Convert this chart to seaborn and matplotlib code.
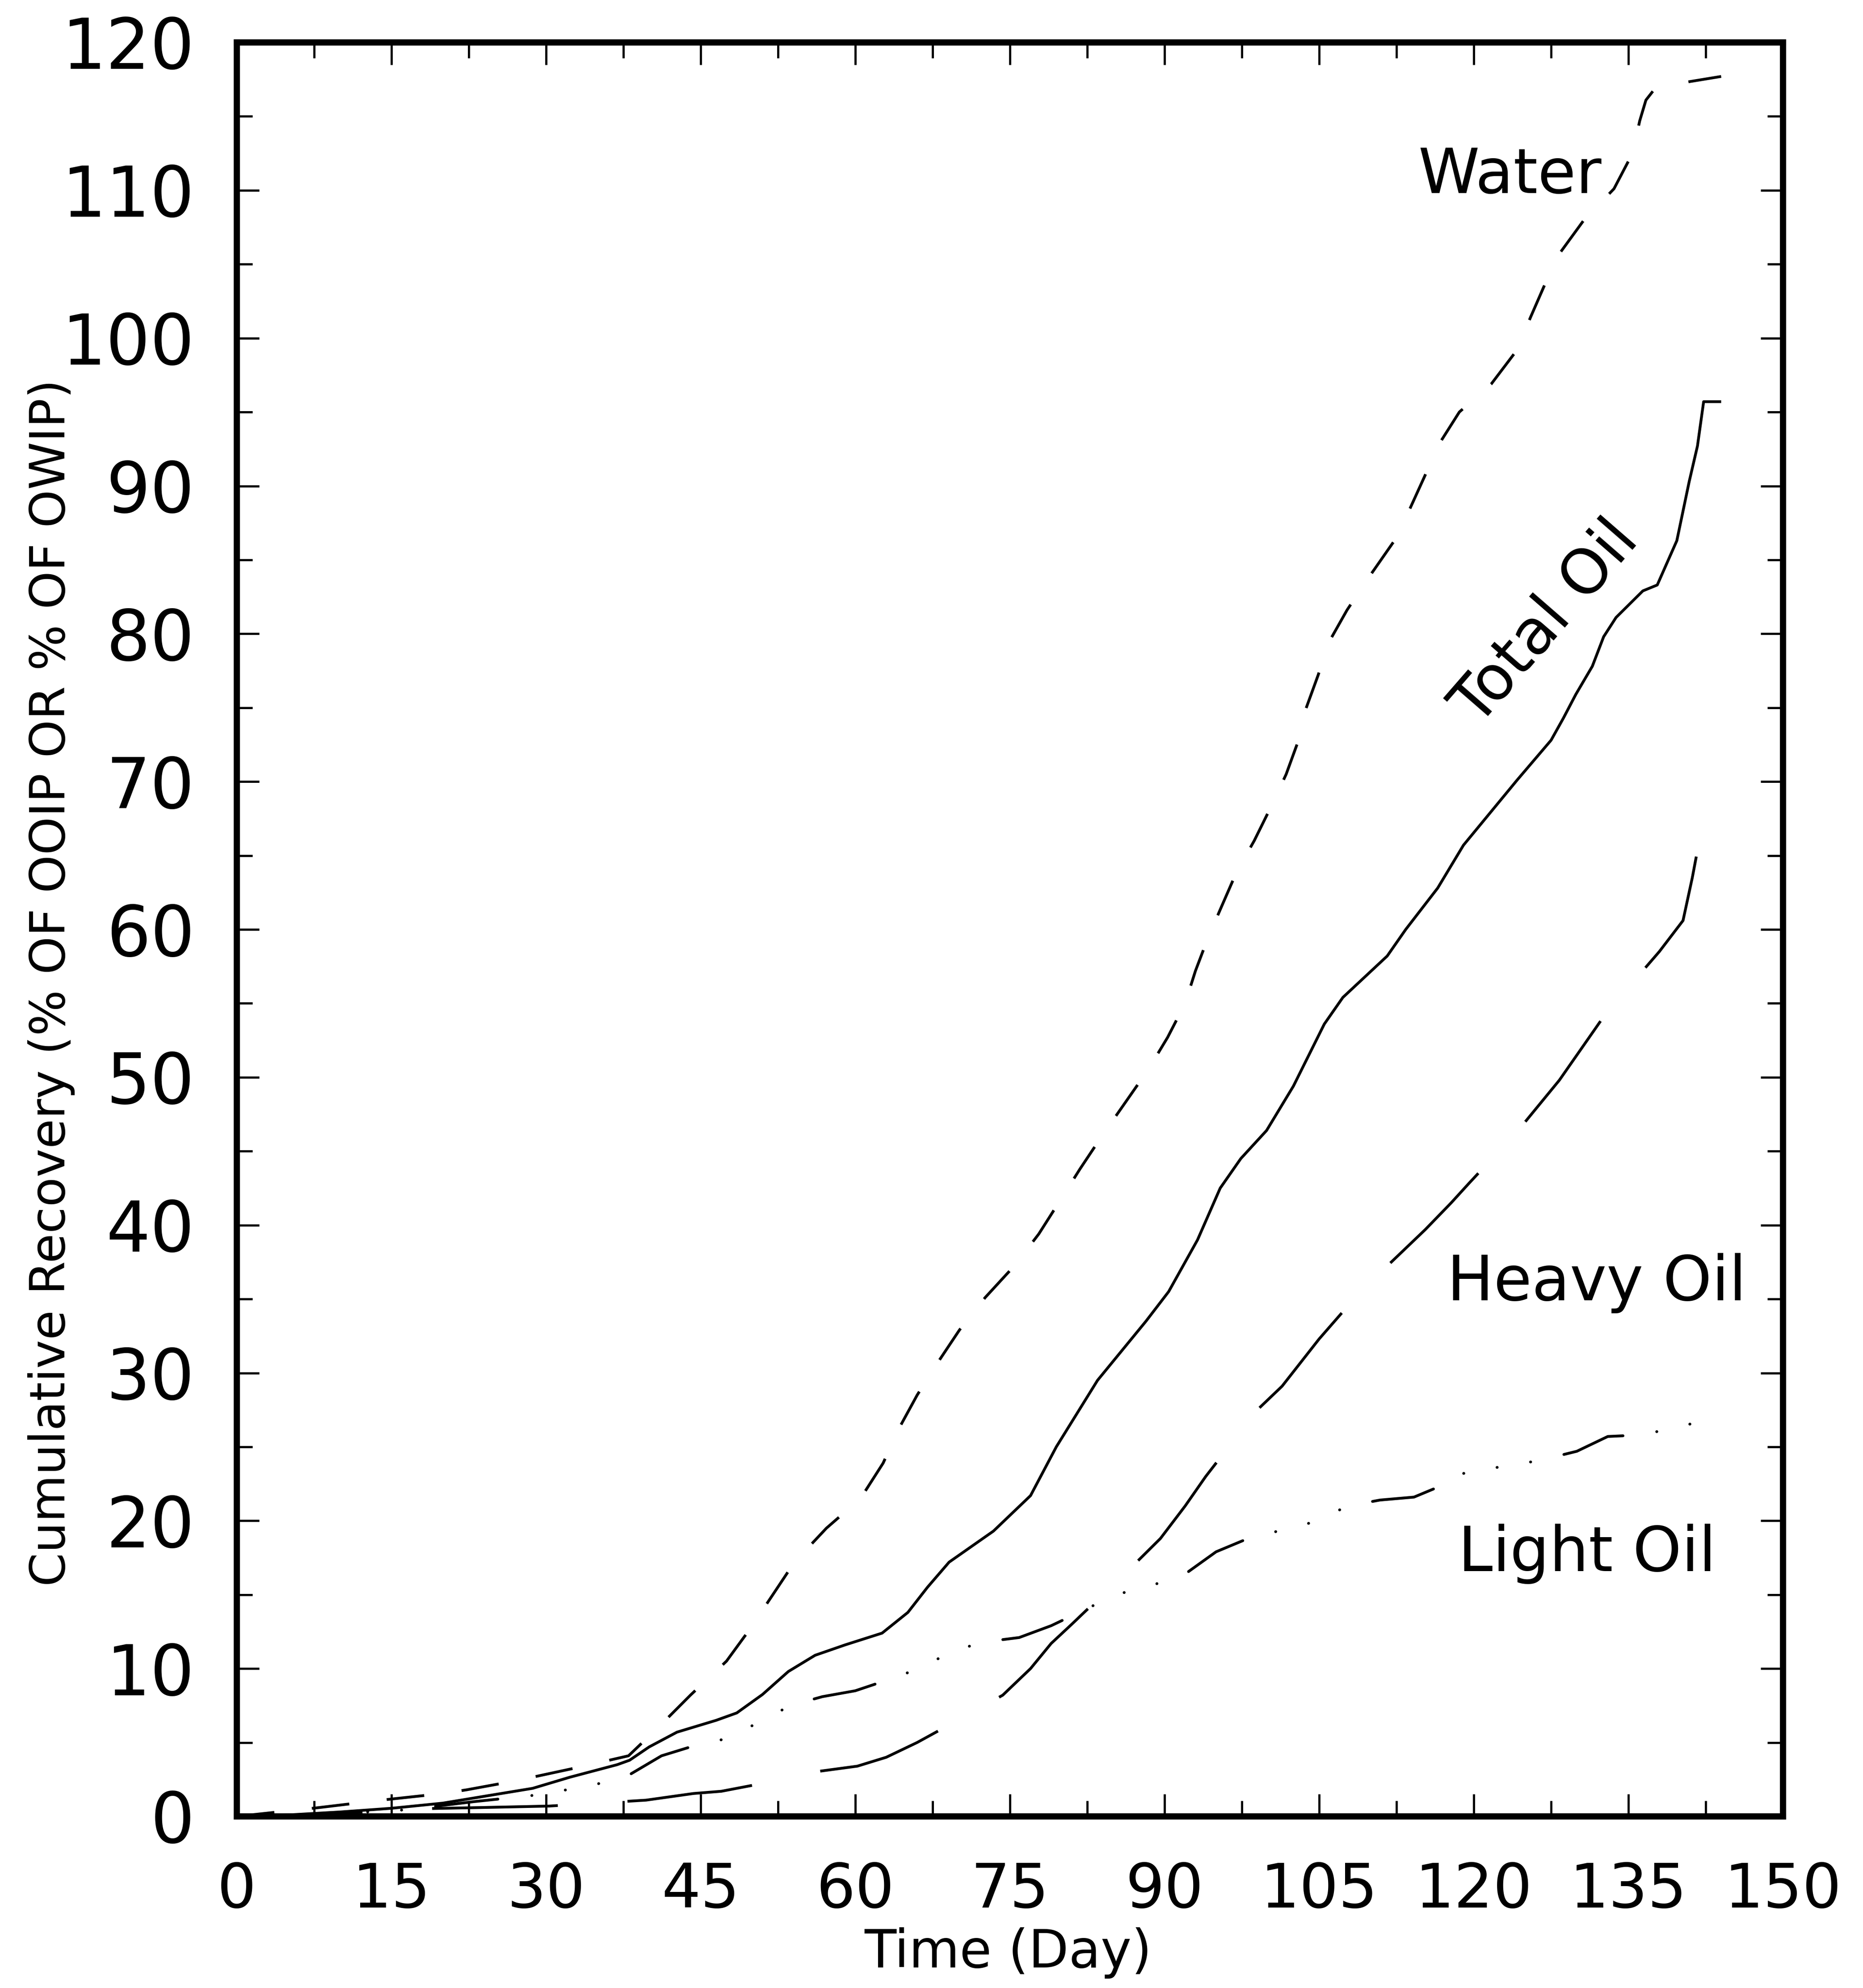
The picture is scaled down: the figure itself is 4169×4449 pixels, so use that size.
import matplotlib
matplotlib.use("Agg")
import matplotlib.pyplot as plt
import numpy as np
import pandas as pd
import seaborn as sns
from matplotlib.ticker import MultipleLocator

# ---------------- data ----------------
water_day = [0, 4, 8, 14, 20, 22.3, 27, 33, 38, 41, 44, 47.5, 49.7, 52, 54.1, 57.2,
             60.5, 62.7, 64.2, 66, 67.9, 70.1, 72.6, 75.5, 77.8, 79.9, 81.8, 83.9,
             86.2, 88.4, 90.3, 92, 93, 94.2, 95.5, 97, 98.7, 100.4, 101.8, 103, 103.7,
             104.9, 106, 107.7, 109.9, 112.2, 113.7, 115.2, 116.6, 118.6, 121.7,
             124.2, 125.5, 127, 128.4, 130.7, 133.6, 135.4, 136.1, 136.7, 137.6,
             140.5, 144]
water_val = [0, 0.3, 0.6, 1.1, 1.55, 1.8, 2.4, 3.3, 4.1, 6.1, 8.2, 10.5, 12.6, 15.0,
             17.2, 19.5, 21.5, 23.9, 26.2, 28.5, 30.6, 32.9, 35.1, 37.3, 39.4, 41.7,
             43.8, 46.0, 48.3, 50.5, 52.7, 55.0, 57.2, 59.4, 61.5, 63.9, 66.0, 68.4,
             70.5, 72.8, 74.9, 77.2, 79.5, 81.6, 83.9, 86.2, 88.3, 90.6, 92.8, 95.0,
             96.9, 99.2, 101.4, 103.8, 105.8, 108.0, 110.1, 112.5, 114.7, 116.1,
             116.9, 117.3, 117.7]

total_day = [0, 5, 10, 15, 20, 22.6, 28.7, 32.3, 36.9, 38.1, 40, 42.7, 46.5, 48.5, 51,
             53.5, 56.1, 59, 62.6, 65.1, 67, 69.1, 73.4, 77, 79.5, 83.5, 88.2, 90.4,
             93.2, 95.4, 97.4, 99.9, 102.5, 105.5, 107.3, 111.6, 113.4, 116.5, 119,
             122.9, 124.2, 127.5, 128.7, 129.9, 131.5, 132.6, 133.8, 136.4, 137.8,
             139.7, 140.9, 141.7, 142.3, 144]
total_val = [0, 0.1, 0.3, 0.55, 0.9, 1.2, 1.9, 2.65, 3.5, 3.8, 4.7, 5.7, 6.5, 7.0, 8.25,
             9.8, 10.9, 11.6, 12.4, 13.8, 15.5, 17.2, 19.3, 21.7, 25.0, 29.5, 33.5,
             35.5, 39.0, 42.5, 44.5, 46.4, 49.4, 53.6, 55.4, 58.2, 60.0, 62.8, 65.7,
             69.0, 70.1, 72.8, 74.3, 75.9, 77.8, 79.8, 81.1, 82.9, 83.3, 86.3, 90.3,
             92.7, 95.7, 95.7]

heavy_day = [0, 10, 16.5, 23.7, 30.3, 35, 39.7, 44.3, 47, 50, 53.8, 57, 60.2, 63, 66,
             69.4, 72, 74.3, 77, 79, 81, 83.1, 85.2, 87, 89.6, 92, 94, 97, 99, 101.4,
             105, 109, 112, 115.3, 117.8, 119.5, 124.3, 128.3, 131, 133, 135.4, 138,
             140.3, 141.2, 142.2]
heavy_val = [0, 0.2, 0.5, 0.6, 0.7, 0.9, 1.1, 1.55, 1.7, 2.1, 2.8, 3.1, 3.4, 4.0, 5.0,
             6.3, 7.3, 8.2, 10.0, 11.7, 13.0, 14.4, 15.6, 17.0, 18.8, 21.0, 23.0, 25.7,
             27.5, 29.1, 32.3, 35.5, 37.5, 39.7, 41.5, 42.8, 46.4, 49.8, 52.5, 54.5,
             56.4, 58.5, 60.6, 63.5, 67.2]

light_day = [0, 10, 16.5, 23, 28.5, 32, 35, 37.8, 41.2, 44, 47.1, 50.5, 53.7, 56.8, 60,
             63, 66.2, 69.5, 72.5, 75.9, 79, 82, 85.3, 88.6, 91.8, 95, 98.1, 101, 104.4,
             107.8, 110.9, 114.2, 117.3, 119, 121, 123.3, 126.5, 130, 133, 136.1, 139,
             142.5]
light_val = [0, 0.2, 0.45, 1.0, 1.4, 1.8, 2.2, 2.7, 4.1, 4.7, 5.2, 6.3, 7.5, 8.1, 8.5,
             9.2, 10.0, 11.2, 11.8, 12.1, 12.9, 13.9, 15.0, 15.6, 16.3, 17.9, 18.8, 19.3,
             19.9, 21.0, 21.4, 21.6, 22.5, 23.2, 23.5, 23.7, 24.1, 24.7, 25.7, 25.8,
             26.2, 26.8]

x_ticks = [0, 15, 30, 45, 60, 75, 90, 105, 120, 135, 150]
y_ticks = [0, 10, 20, 30, 40, 50, 60, 70, 80, 90, 100, 110, 120]

# ---------------- style ----------------
sns.set_theme(style="white")
plt.rcParams['font.family'] = ['DejaVu Sans']
plt.rcParams['text.color'] = 'black'
plt.rcParams['axes.labelcolor'] = 'black'
plt.rcParams['xtick.color'] = 'black'
plt.rcParams['ytick.color'] = 'black'

W, H = 4169, 4449
DPI = 100
fig = plt.figure(figsize=(W / DPI, H / DPI), dpi=DPI, facecolor='white')
ax = fig.add_axes([530 / W, 1 - 4065 / H, 3460 / W, 3970 / H])
ax.set_facecolor('white')

LW = 4.5
series = [
    ("Water", water_day, water_val, (13.5, 13.5), 'butt'),
    ("Total Oil", total_day, total_val, None, 'butt'),
    ("Heavy Oil", heavy_day, heavy_val, (45, 25), 'butt'),
    ("Light Oil", light_day, light_val, (22.5, 12.2, 0.05, 12.1, 0.05, 12.1, 0.05, 12.2), 'round'),
]
for name, d, v, dash, cap in series:
    df = pd.DataFrame({"day": d, "val": v})
    n_before = len(ax.lines)
    sns.lineplot(data=df, x="day", y="val", ax=ax, color='black', linewidth=LW,
                 estimator=None, sort=False, legend=False)
    line = ax.lines[n_before]
    if dash is not None:
        line.set_dashes(dash)
    line.set_dash_capstyle(cap)
    line.set_solid_capstyle('butt')

ax.set_xlim(0, 150)
ax.set_ylim(0, 120)
ax.set_xticks(x_ticks)
ax.set_yticks(y_ticks)
ax.set_xticklabels([str(t) for t in x_ticks])
ax.set_yticklabels([str(t) for t in y_ticks])
ax.xaxis.set_minor_locator(MultipleLocator(7.5))
ax.yaxis.set_minor_locator(MultipleLocator(5))

ax.tick_params(which='both', direction='in', top=True, right=True, bottom=True,
               left=True, width=3.5, color='black')
ax.tick_params(which='major', length=36)
ax.tick_params(which='minor', length=25)
ax.tick_params(axis='x', which='major', labelsize=99, pad=72)
ax.tick_params(axis='y', which='major', labelsize=112, pad=68)
ax.grid(False)

for s in ax.spines.values():
    s.set_visible(True)
    s.set_color('black')
    s.set_linewidth(10)

ax.set_xlabel("Time (Day)", fontsize=84, va='center')
ax.xaxis.set_label_coords(0.499, -0.077)
ax.set_ylabel("Cumulative Recovery (% OF OOIP OR % OF OWIP)", fontsize=78, va='center')
ax.yaxis.set_label_coords(-0.12, 0.47)

# curve labels
ax.text(123.5, 109.8, "Water", fontsize=100, ha='center', va='baseline')
ax.text(127.0, 80.7, "Total Oil", fontsize=100, ha='center', va='center',
        rotation=49, rotation_mode='anchor')
ax.text(131.9, 34.9, "Heavy Oil", fontsize=100, ha='center', va='baseline')
ax.text(131.0, 16.6, "Light Oil", fontsize=100, ha='center', va='baseline')

fig.savefig("out.png", dpi=DPI, facecolor='white')
